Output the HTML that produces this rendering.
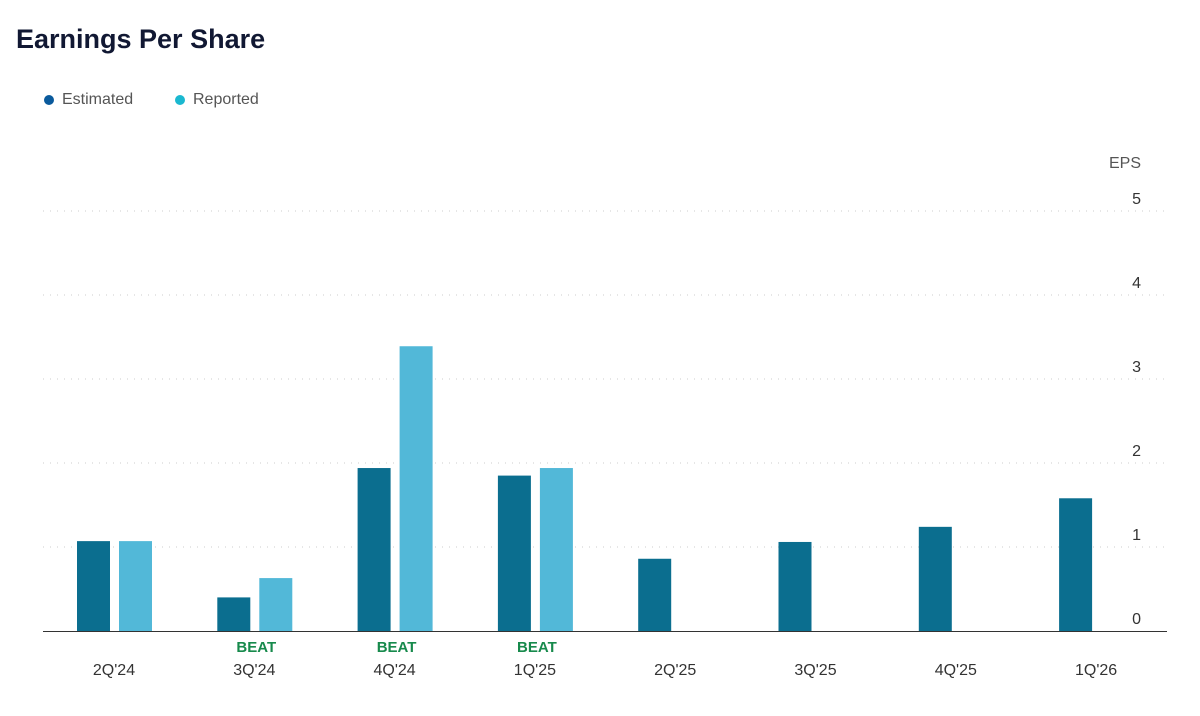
<!DOCTYPE html>
<html><head><meta charset="utf-8"><style>
body{margin:0;width:1200px;height:716px;background:#fff;font-family:"Liberation Sans",sans-serif;overflow:hidden;position:relative}
.title{position:absolute;left:16px;top:24px;font-size:27px;font-weight:bold;color:#111833}
.legend{position:absolute;top:91px;font-size:16px;color:#555;display:flex;align-items:center}
.dot{width:10px;height:10px;border-radius:50%;margin-right:8px;display:inline-block}
</style></head><body>
<div class="title">Earnings Per Share</div>
<div class="legend" style="left:44px"><span class="dot" style="background:#0a5a9c"></span>Estimated</div>
<div class="legend" style="left:175px"><span class="dot" style="background:#1ab8d0"></span>Reported</div>
<svg id="chart" width="1200" height="716" style="position:absolute;left:0;top:0"></svg>
<script>
const categories=["2Q'24","3Q'24","4Q'24","1Q'25","2Q'25","3Q'25","4Q'25","1Q'26"];
const estimated=[1.07,0.40,1.94,1.85,0.86,1.06,1.24,1.58];
const reported=[1.07,0.63,3.39,1.94,null,null,null,null];
const beatLabels=["","BEAT","BEAT","BEAT","","","",""];
const yTicks=[0,1,2,3,4,5];
const NS="http://www.w3.org/2000/svg";
const svg=document.getElementById('chart');
const y=v=>631-v*84;
const cx=i=>114+i*140.3;
function mk(t,a){const e=document.createElementNS(NS,t);for(const k in a)e.setAttribute(k,a[k]);svg.appendChild(e);return e;}
let yt=mk('text',{x:1141,y:168,'text-anchor':'end','font-size':16,fill:'#555'});yt.textContent='EPS';


yTicks.forEach(v=>{
 if(v>0){const g=mk('line',{x1:43,x2:1167,y1:y(v),y2:y(v),stroke:'#ccc','stroke-dasharray':'1 6'});
 
 }
 const t=mk('text',{x:1141,y:y(v)-7,'text-anchor':'end','font-size':16,fill:'#333'});t.textContent=v;
 
 
});
categories.forEach((c,i)=>{
 const e=estimated[i];
 const b=mk('rect',{x:cx(i)-37,y:y(e),width:33,height:631-y(e),fill:'#0b6e8f'});
 
 
 if(reported[i]!=null){const r=reported[i];
  const b2=mk('rect',{x:cx(i)+5,y:y(r),width:33,height:631-y(r),fill:'#52b8d8'});
  
  }
 const t=mk('text',{x:cx(i),y:675,'text-anchor':'middle','font-size':16,fill:'#333'});t.textContent=c;
 
 
 if(beatLabels[i]){const bt=mk('text',{x:cx(i)+2,y:652,'text-anchor':'middle','font-size':15,'font-weight':'bold',fill:'#178a4c'});bt.textContent=beatLabels[i];
  
  }
});
const ax=mk('line',{x1:43,x2:1167,y1:631.5,y2:631.5,stroke:'#333','stroke-width':1});


</script>
</body></html>
